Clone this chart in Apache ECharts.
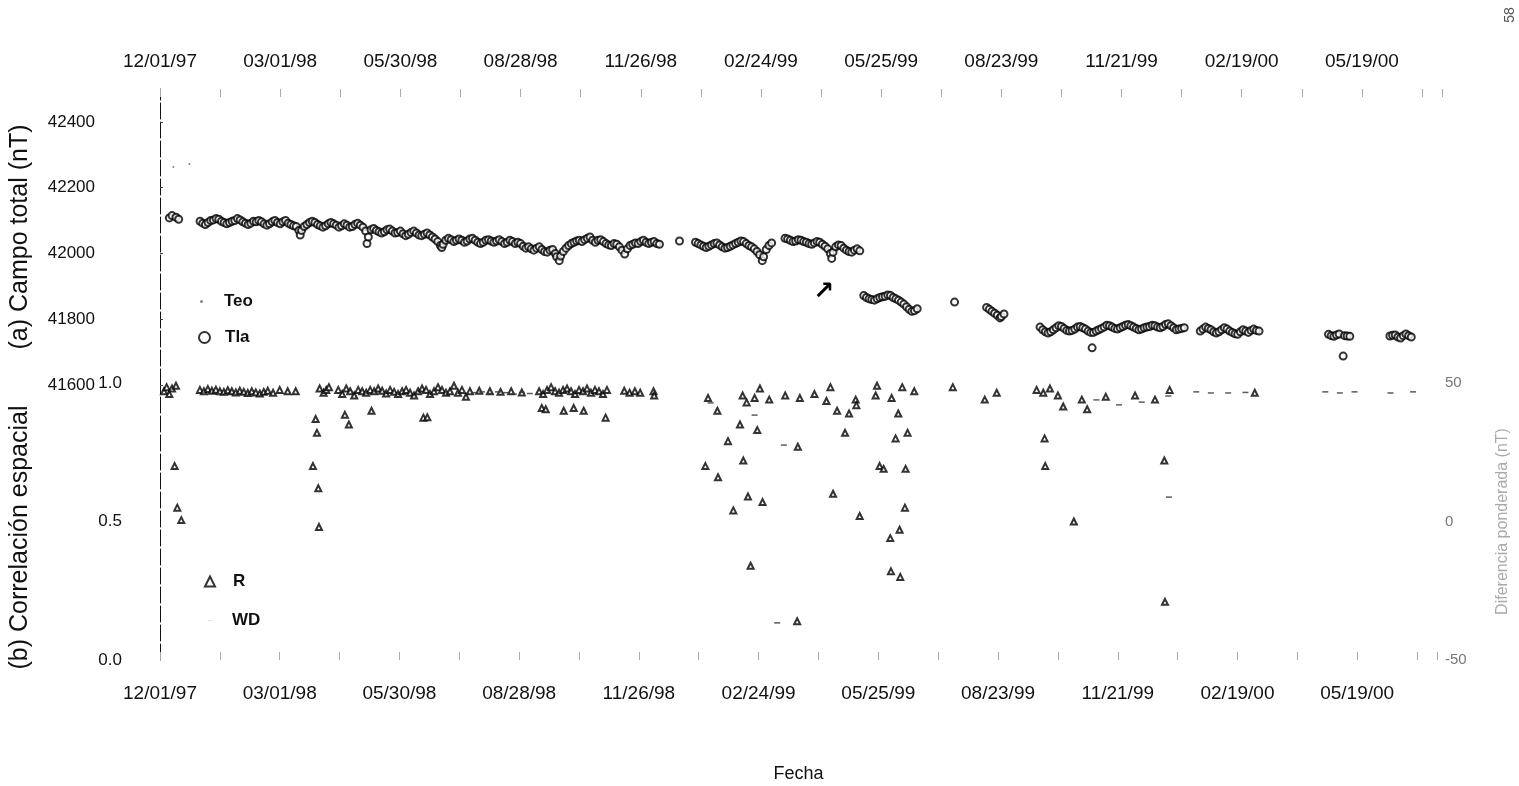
<!DOCTYPE html>
<html>
<head>
<meta charset="utf-8">
<title>Campo total y correlación espacial</title>
<script src="https://cdn.jsdelivr.net/npm/echarts@6.0.0/dist/echarts.min.js"></script>
<style>
  html, body { margin: 0; padding: 0; background: #fff; }
  #chart { width: 1519px; height: 786px; }
</style>
</head>
<body>
<div id="chart"></div>
<script>
// Time is counted in days since 12/01/97; labels are converted back to MM/DD/YY.
const START_DATE = Date.UTC(1997, 11, 1);
const DAY_MS = 86400000;
const X_MAX_DAY = 960;
const X_TICK_DAYS = 90;

// (a) Total field, station Teo (only a few readings)
const teoDay = [10, 22];
const teoVal = [42263, 42272];

// (a) Total field, station Tla: [day, nT]
const tlaReadings = [
  [7, 42108], [9, 42115], [12, 42110], [14, 42104],
  [30, 42098], [32, 42092], [34, 42088], [36, 42094], [38, 42100], [40, 42102], [42, 42106], [44, 42104],
  [46, 42098], [48, 42094], [50, 42090], [52, 42094], [54, 42098], [56, 42100], [58, 42106], [60, 42102],
  [62, 42096], [64, 42092], [66, 42088], [68, 42092], [70, 42098], [72, 42096], [74, 42100], [76, 42096],
  [78, 42090], [80, 42086], [82, 42090], [84, 42096], [86, 42100], [88, 42094], [90, 42090], [92, 42096],
  [94, 42100], [96, 42092], [98, 42088], [100, 42084], [102, 42082], [104, 42070], [105, 42056], [106, 42070],
  [108, 42082], [110, 42088], [112, 42094], [114, 42098], [116, 42094], [118, 42088], [120, 42084], [122, 42080],
  [124, 42084], [126, 42090], [128, 42094], [130, 42090], [132, 42086], [134, 42080], [136, 42084], [138, 42090],
  [140, 42086], [142, 42080], [144, 42082], [146, 42088], [148, 42092], [150, 42086], [152, 42080], [154, 42068],
  [155, 42030], [156, 42050], [158, 42072], [160, 42076], [162, 42070], [164, 42066], [166, 42062], [168, 42066],
  [170, 42072], [172, 42074], [174, 42068], [176, 42062], [178, 42064], [180, 42068], [182, 42060], [184, 42054],
  [186, 42058], [188, 42064], [190, 42068], [192, 42062], [194, 42056], [196, 42054], [198, 42058], [200, 42062],
  [202, 42056], [204, 42050], [206, 42044], [208, 42036], [210, 42024], [211, 42018], [212, 42028], [214, 42040],
  [216, 42046], [218, 42042], [220, 42036], [222, 42040], [224, 42044], [226, 42040], [228, 42034], [230, 42038],
  [232, 42044], [234, 42046], [236, 42040], [238, 42034], [240, 42030], [242, 42034], [244, 42040], [246, 42042],
  [248, 42038], [250, 42034], [252, 42038], [254, 42042], [256, 42036], [258, 42030], [260, 42034], [262, 42040],
  [264, 42036], [266, 42030], [268, 42034], [270, 42030], [272, 42022], [274, 42016], [276, 42020], [278, 42014],
  [280, 42010], [282, 42016], [284, 42020], [286, 42012], [288, 42006], [290, 42004], [292, 42010], [294, 42012],
  [296, 42000], [297, 41990], [299, 41978], [300, 41992], [302, 42006], [304, 42016], [306, 42024], [308, 42030],
  [310, 42034], [312, 42038], [314, 42040], [316, 42036], [318, 42042], [320, 42046], [322, 42050], [324, 42040],
  [326, 42034], [328, 42040], [330, 42042], [332, 42036], [334, 42030], [336, 42026], [338, 42024], [340, 42030],
  [342, 42028], [344, 42020], [346, 42010], [348, 41998], [350, 42014], [352, 42024], [354, 42028], [356, 42032],
  [358, 42030], [360, 42036], [362, 42040], [364, 42034], [366, 42030], [368, 42034], [370, 42036], [372, 42030],
  [374, 42028],
  [389, 42038],
  [401, 42034], [403, 42030], [405, 42026], [407, 42022], [409, 42018], [411, 42022], [413, 42026], [415, 42030],
  [417, 42032], [419, 42026], [421, 42020], [423, 42016], [425, 42018], [427, 42022], [429, 42026], [431, 42030],
  [433, 42034], [435, 42038], [437, 42036], [439, 42030], [441, 42024], [443, 42020], [445, 42014], [447, 42006],
  [449, 41996], [451, 41978], [452, 41990], [454, 42012], [456, 42024], [458, 42032],
  [468, 42046], [470, 42044], [472, 42040], [474, 42036], [476, 42038], [478, 42042], [480, 42040], [482, 42036],
  [484, 42034], [486, 42030], [488, 42028], [490, 42032], [492, 42036], [494, 42034], [496, 42028], [498, 42022],
  [500, 42014], [502, 42000], [503, 41985], [504, 42004], [506, 42020], [508, 42026], [510, 42024], [512, 42016],
  [514, 42010], [516, 42006], [518, 42004], [520, 42010], [522, 42014], [524, 42008],
  [527, 41872], [529, 41866], [531, 41862], [533, 41860], [535, 41858], [537, 41862], [539, 41866], [541, 41868],
  [543, 41870], [545, 41874], [547, 41872], [549, 41866], [551, 41862], [553, 41858], [555, 41852], [557, 41846],
  [559, 41838], [561, 41830], [563, 41824], [565, 41826], [567, 41832],
  [595, 41852],
  [619, 41836], [621, 41830], [623, 41824], [625, 41818], [627, 41812], [629, 41804], [630, 41808], [632, 41816],
  [659, 41776], [661, 41768], [663, 41762], [665, 41758], [667, 41762], [669, 41768], [671, 41774], [673, 41780],
  [675, 41778], [677, 41772], [679, 41766], [681, 41764], [683, 41766], [685, 41770], [687, 41776], [689, 41778],
  [691, 41774], [693, 41770], [695, 41764], [697, 41760], [698, 41713], [699, 41760], [701, 41764], [703, 41768],
  [705, 41772], [707, 41776], [709, 41782], [711, 41780], [713, 41776], [715, 41772], [717, 41770], [719, 41774],
  [721, 41778], [723, 41782], [725, 41784], [727, 41780], [729, 41776], [731, 41772], [733, 41768], [735, 41770],
  [737, 41774], [739, 41776], [741, 41778], [743, 41782], [745, 41780], [747, 41776], [749, 41774], [751, 41778],
  [753, 41784], [755, 41786], [757, 41780], [759, 41774], [761, 41768], [763, 41770], [765, 41772], [767, 41774],
  [779, 41764], [781, 41770], [783, 41776], [785, 41772], [787, 41768], [789, 41762], [791, 41758], [793, 41762],
  [795, 41768], [797, 41774], [799, 41770], [801, 41764], [803, 41760], [805, 41756], [807, 41754], [809, 41762],
  [811, 41768], [813, 41764], [815, 41760], [817, 41766], [819, 41770], [821, 41766], [823, 41764],
  [875, 41754], [877, 41750], [879, 41748], [881, 41752], [883, 41755], [886, 41688], [887, 41750], [889, 41749],
  [891, 41748],
  [921, 41749], [923, 41751], [925, 41752], [927, 41746], [929, 41743], [931, 41750], [933, 41755], [935, 41750],
  [937, 41746]
];

// Arrow note placed on the field panel
const arrowDay = 497;
const arrowVal = 41880;

// (b) Spatial correlation R
const rDay = [
  3, 5, 7, 9, 11, 12, 13, 16,
  30, 33, 36, 39, 42, 45, 48, 51, 54, 57, 60, 63, 66, 69, 72, 75, 78, 81, 85, 90, 96, 102,
  115, 117, 118, 119, 119.5, 120, 123, 125, 127,
  134, 137, 139, 140, 142, 143, 146, 149, 152, 155, 158, 159, 161, 164, 167, 170, 173, 176, 179, 182, 185,
  188, 191, 194, 197, 198, 200, 201, 203, 206, 209, 212, 215, 218, 221, 224, 227, 230, 233,
  240, 248, 256, 264, 272,
  285, 287, 288, 290, 291, 294, 297, 300, 303, 303.5, 306, 309, 311, 312, 315, 318, 318.5, 321, 324, 327, 330, 333, 335, 336,
  349, 353, 357, 361, 371, 371.5,
  410, 412, 419, 419.5, 427, 431, 436, 438, 438.5, 441, 442, 444, 447, 449, 451, 453, 458, 470,
  479, 479.5, 481, 492, 501, 504, 506, 509, 515, 518, 523, 523.5, 526, 538, 539, 541, 544, 549, 549.5, 550,
  553, 555, 556, 556.5, 558, 560, 560.5, 562, 567, 596, 620, 629,
  659, 664, 665, 665.5, 669, 675, 679, 687, 693, 697, 711, 733, 748, 755, 755.5, 759, 823
];
const rVal = [
  0.97, 0.985, 0.96, 0.98, 0.70, 0.99, 0.55, 0.505,
  0.975, 0.97, 0.978, 0.972, 0.976, 0.97, 0.968, 0.974, 0.97, 0.966, 0.972, 0.968, 0.964, 0.97, 0.966, 0.962, 0.968, 0.972, 0.965, 0.975, 0.97, 0.97,
  0.70, 0.87, 0.82, 0.62, 0.48, 0.98, 0.965, 0.975, 0.985,
  0.975, 0.96, 0.885, 0.98, 0.85, 0.97, 0.955, 0.975, 0.97, 0.965, 0.975, 0.90, 0.97, 0.98, 0.972, 0.962, 0.975, 0.968, 0.96, 0.97, 0.975,
  0.965, 0.955, 0.97, 0.98, 0.875, 0.975, 0.876, 0.96, 0.97, 0.985, 0.975, 0.965, 0.97, 0.99, 0.965, 0.975, 0.95, 0.97,
  0.972, 0.97, 0.968, 0.97, 0.966,
  0.97, 0.91, 0.96, 0.905, 0.975, 0.985, 0.97, 0.965, 0.975, 0.90, 0.98, 0.97, 0.91, 0.96, 0.975, 0.97, 0.90, 0.98, 0.965, 0.975, 0.97, 0.96, 0.875, 0.975,
  0.972, 0.965, 0.97, 0.965, 0.97, 0.955,
  0.70, 0.946, 0.90, 0.66, 0.79, 0.54, 0.85, 0.955, 0.72, 0.93, 0.59, 0.34, 0.946, 0.83, 0.98, 0.57, 0.94, 0.955,
  0.14, 0.77, 0.946, 0.96, 0.935, 0.985, 0.60, 0.90, 0.82, 0.89, 0.94, 0.92, 0.52, 0.955, 0.99, 0.70, 0.69, 0.44, 0.32, 0.946,
  0.80, 0.89, 0.47, 0.30, 0.985, 0.55, 0.69, 0.82, 0.97, 0.985, 0.94, 0.965,
  0.975, 0.965, 0.80, 0.70, 0.98, 0.955, 0.915, 0.50, 0.94, 0.905, 0.95, 0.955, 0.94, 0.72, 0.21, 0.975, 0.965
];

// (b) WD, right-hand scale
const wdDay = [236, 242, 248, 254, 260, 266, 272, 278, 414, 447, 464, 469, 704, 721, 738, 758, 758.5,
  779, 790, 803, 816, 876, 887, 898, 925, 942];
const wdVal = [46.5, 46.8, 46.2, 46.8, 46.5, 46.0, 46.6, 46.2, 42.8, 38.4, -36.6, 27.6, 43.9, 42.1, 43.1, 45.3, 8.8,
  46.8, 46.4, 46.4, 46.6, 46.8, 46.4, 46.8, 46.4, 46.8];

const yFieldTicks = { min: 41600, max: 42500, step: 200 };
const yCorrTicks = { min: 0, max: 1, step: 0.5 };
const yWdTicks = { min: -50, max: 50, step: 50 };

function pair(xs, ys) { return xs.map((x, i) => [x, ys[i]]); }
function fmtDay(d) {
  const t = new Date(START_DATE + d * DAY_MS);
  const p = n => String(n).padStart(2, '0');
  return p(t.getUTCMonth() + 1) + '/' + p(t.getUTCDate()) + '/' + p(t.getUTCFullYear() % 100);
}

const FONT = 'Liberation Sans, Arial, sans-serif';
const chart = echarts.init(document.getElementById('chart'), null, { renderer: 'canvas' });

const GRID_LEFT = 160, GRID_W = 1282;

function xAxisFor(gridIndex, position, margin) {
  return {
    type: 'value', gridIndex, position, min: 0, max: X_MAX_DAY, interval: X_TICK_DAYS,
    axisLine: { show: false },
    axisTick: { show: true, inside: true, length: 8, lineStyle: { color: '#aaa', width: 1 } },
    minorTick: { show: true, splitNumber: 2, length: 8, lineStyle: { color: '#aaa', width: 1 } },
    splitLine: { show: false },
    axisLabel: { fontFamily: FONT, fontSize: 19, color: '#111', margin, showMaxLabel: false, formatter: fmtDay }
  };
}

const legendText = { fontFamily: FONT, fontSize: 17, fontWeight: 'bold', color: '#111' };

chart.setOption({
  animation: false,
  backgroundColor: '#fff',
  grid: [
    { left: GRID_LEFT, top: 89, width: GRID_W, height: 296 },
    { left: GRID_LEFT, top: 383, width: GRID_W, height: 277 }
  ],
  xAxis: [
    xAxisFor(0, 'top', 18),
    Object.assign(xAxisFor(1, 'bottom', 24), {
      name: 'Fecha', nameLocation: 'middle', nameGap: 105,
      nameTextStyle: { fontFamily: FONT, fontSize: 18, color: '#111' }
    })
  ],
  yAxis: [
    {
      type: 'value', gridIndex: 0, min: yFieldTicks.min, max: yFieldTicks.max, interval: yFieldTicks.step,
      axisLine: { show: true, lineStyle: { color: '#111', width: 1, type: [16, 3] } },
      axisTick: { show: true, inside: true, length: 3, lineStyle: { color: '#444' } },
      splitLine: { show: false },
      axisLabel: { fontFamily: FONT, fontSize: 17, color: '#111', margin: 65, showMaxLabel: false,
        formatter: v => String(v) },
      name: '(a) Campo total (nT)', nameLocation: 'middle', nameGap: 127,
      nameTextStyle: { fontFamily: FONT, fontSize: 25, color: '#111' }
    },
    {
      type: 'value', gridIndex: 1, min: yCorrTicks.min, max: yCorrTicks.max, interval: yCorrTicks.step,
      axisLine: { show: true, lineStyle: { color: '#111', width: 1, type: [16, 3] } },
      axisTick: { show: false },
      splitLine: { show: false },
      axisLabel: { fontFamily: FONT, fontSize: 17, color: '#111', margin: 38, formatter: v => v.toFixed(1) },
      name: '(b) Correlación espacial', nameLocation: 'middle', nameGap: 127,
      nameTextStyle: { fontFamily: FONT, fontSize: 25, color: '#111', padding: [0, 32, 0, 0] }
    },
    {
      type: 'value', gridIndex: 1, position: 'right', min: yWdTicks.min, max: yWdTicks.max, interval: yWdTicks.step,
      axisLine: { show: false }, axisTick: { show: false }, splitLine: { show: false },
      axisLabel: { fontFamily: FONT, fontSize: 15, color: '#777', margin: 8 },
      name: 'Diferencia ponderada (nT)', nameLocation: 'middle', nameGap: 58,
      nameTextStyle: { fontFamily: FONT, fontSize: 16, color: '#aaa' }
    }
  ],
  legend: [
    { data: ['Teo'], left: 195, top: 288, orient: 'vertical', itemWidth: 3, itemHeight: 3,
      textStyle: Object.assign({ padding: [0, 0, 0, 16] }, legendText) },
    { data: ['Tla'], left: 193, top: 324, orient: 'vertical', itemWidth: 11, itemHeight: 11,
      textStyle: Object.assign({ padding: [0, 0, 0, 10] }, legendText) },
    { data: ['R'], left: 199, top: 568, orient: 'vertical', itemWidth: 10, itemHeight: 10,
      textStyle: Object.assign({ padding: [0, 0, 0, 13] }, legendText) },
    { data: ['WD'], left: 203, top: 607, orient: 'vertical', itemWidth: 4, itemHeight: 1,
      itemStyle: { color: '#ddd' },
      textStyle: Object.assign({ padding: [0, 0, 0, 15] }, legendText) }
  ],
  graphic: [
    { type: 'text', x: 1510, y: 15, rotation: Math.PI / 2,
      style: { text: '58', fontFamily: FONT, fontSize: 14, fill: '#555', align: 'center', verticalAlign: 'middle' } }
  ],
  series: [
    {
      name: 'Teo', type: 'scatter', xAxisIndex: 0, yAxisIndex: 0,
      symbol: 'circle', symbolSize: 2, itemStyle: { color: '#666' },
      data: pair(teoDay, teoVal)
    },
    {
      name: 'Tla', type: 'scatter', xAxisIndex: 0, yAxisIndex: 0,
      symbol: 'emptyCircle', symbolSize: 7,
      itemStyle: { color: '#000', borderColor: '#000', borderWidth: 0.9 },
      data: tlaReadings,
      markPoint: {
        symbol: 'circle', symbolSize: 0,
        label: { show: true, formatter: '\u2197', fontFamily: 'DejaVu Sans', fontSize: 25, color: '#000', fontWeight: 'bold' },
        data: [{ coord: [arrowDay, arrowVal] }]
      }
    },
    {
      name: 'R', type: 'scatter', xAxisIndex: 1, yAxisIndex: 1,
      symbol: 'emptyTriangle', symbolSize: 6,
      itemStyle: { color: '#000', borderColor: '#000', borderWidth: 1.1 },
      data: pair(rDay, rVal)
    },
    {
      name: 'WD', type: 'scatter', xAxisIndex: 1, yAxisIndex: 2,
      symbol: 'rect', symbolSize: [6, 1.5], itemStyle: { color: '#333' },
      data: pair(wdDay, wdVal)
    }
  ]
});
</script>
</body>
</html>
